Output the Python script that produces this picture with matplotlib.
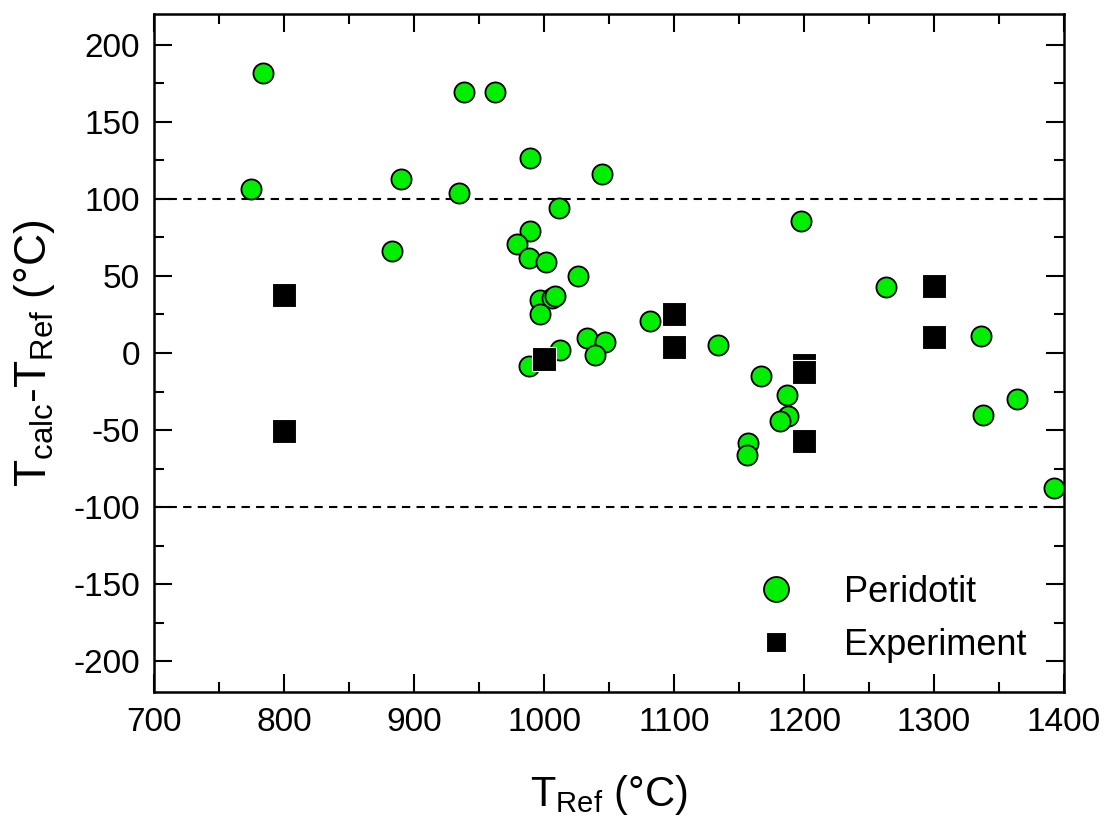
import matplotlib
matplotlib.use("Agg")
import matplotlib.pyplot as plt
from matplotlib.ticker import MultipleLocator

plt.rcParams['font.family'] = ['Liberation Sans', 'DejaVu Sans']
plt.rcParams['mathtext.fontset'] = 'custom'
plt.rcParams['mathtext.rm'] = 'Liberation Sans'
plt.rcParams['mathtext.it'] = 'Liberation Sans:italic'
plt.rcParams['mathtext.bf'] = 'Liberation Sans:bold'
plt.rcParams['axes.unicode_minus'] = False

# Peridotite samples: reference temperature and calculated - reference difference
perid_t = [774.9, 784.2, 883.0, 890.0, 934.3, 938.2, 962.1, 989.0, 1044.8,
           1011.3, 989.5, 979.3, 988.2, 1001.6, 1026.3, 997.2, 1006.3, 1008.8,
           996.7, 1081.9, 1033.2, 1046.8, 1039.1, 1012.6, 988.2, 1134.1,
           1166.7, 1187.2, 1188.0, 1181.3, 1157.2, 1156.4, 1197.5, 1263.4,
           1336.3, 1363.6, 1337.6, 1392.0]
perid_dt = [106.1, 182.0, 66.0, 113.0, 103.5, 169.1, 169.1, 126.7, 116.3,
            94.0, 79.0, 71.0, 61.7, 58.9, 49.8, 34.6, 35.7, 36.8,
            25.5, 20.5, 9.7, 6.9, -1.1, 2.1, -8.3, 4.9,
            -15.2, -27.1, -40.7, -44.4, -58.5, -66.5, 85.8, 42.9,
            10.8, -29.9, -40.1, -87.3]

# Experimental runs
exp_t = [800, 800, 1000, 1100, 1100, 1200, 1200, 1200, 1300, 1300]
exp_dt = [37.9, -50.9, -3.9, 25.3, 3.6, -7.5, -12.5, -57.4, 43.3, 10.1]

fig = plt.figure(figsize=(11.04, 8.21), dpi=100)
ax = fig.add_axes([0.1395, 0.1571, 0.8243, 0.8259])

ax.axhline(100, color='black', ls=(0, (4, 3)), lw=1.5, zorder=1)
ax.axhline(-100, color='black', ls=(0, (4, 3)), lw=1.5, zorder=1)

ax.plot(perid_t, perid_dt, ls='none', marker='o', ms=14.5, mfc='#00ee00',
        mec='black', mew=1.3, label='Peridotit', zorder=3)
ax.plot(exp_t, exp_dt, ls='none', marker='s', ms=17, mfc='black',
        mec='white', mew=0.8, label='Experiment', zorder=4)

ax.set_xlim(700, 1400)
ax.set_ylim(-220, 220)
ax.xaxis.set_major_locator(MultipleLocator(100))
ax.xaxis.set_minor_locator(MultipleLocator(50))
ax.yaxis.set_major_locator(MultipleLocator(50))
ax.yaxis.set_minor_locator(MultipleLocator(25))

ax.tick_params(which='both', direction='in', top=True, right=True,
               width=1.5, labelsize=24)
ax.tick_params(axis='x', pad=11)
ax.tick_params(axis='y', pad=10)
ax.tick_params(which='major', length=13)
ax.tick_params(which='minor', length=7)
for s in ax.spines.values():
    s.set_linewidth(1.8)

ax.set_xlabel(r'T$_{\mathrm{Ref}}$ (°C)', fontsize=30, labelpad=25)
ax.set_ylabel(r'T$_{\mathrm{calc}}$-T$_{\mathrm{Ref}}$ (°C)', fontsize=32,
              labelpad=12)

leg = ax.legend(loc='lower right', bbox_to_anchor=(0.995, -0.005), frameon=False,
                fontsize=26, handletextpad=0.9, labelspacing=0.5,
                markerscale=1.0)
leg.legend_handles[0].set_markersize(18)
leg.legend_handles[1].set_markersize(14)

fig.savefig('out.png', dpi=100)
